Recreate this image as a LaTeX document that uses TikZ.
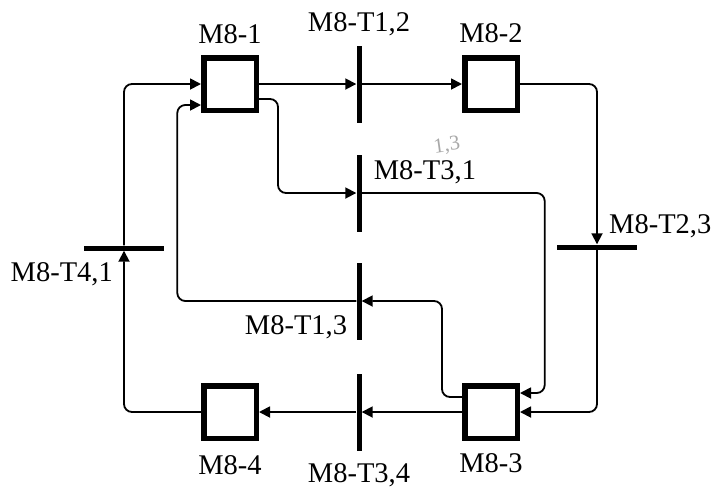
\documentclass[tikz,border=0pt]{standalone}
\usepackage{fontspec}
\setmainfont{Liberation Serif}
\usetikzlibrary{arrows.meta,positioning}
\definecolor{mpInk}{HTML}{000000}
\definecolor{mpFaint}{HTML}{A8A8A8}
\tikzset{
  mp box/.style={draw=mpInk, line width=5.5pt, minimum size=52.5pt, inner sep=0pt},
  mp vbar/.style={fill=mpInk, minimum width=5pt, minimum height=77pt, inner sep=0pt},
  mp hbar/.style={fill=mpInk, minimum width=80pt, minimum height=5pt, inner sep=0pt},
  mp arc/.style={draw=mpInk, line width=1.8pt, rounded corners=8pt, -{Triangle[length=11pt,width=11pt]}},
  mp label/.style={font=\fontsize{28.5}{31}\selectfont, text=mpInk, inner sep=0pt},
}

\begin{document}
\begin{tikzpicture}[x=1pt,y=-1pt]
  \useasboundingbox (0,0) rectangle (713,488);
  % machines and transitions
  \node[mp box] (m1) at (230,84) {};
  \node[mp box] (m2) at (491,84) {};
  \node[mp box] (m3) at (491,412) {};
  \node[mp box] (m4) at (230,412) {};
  \foreach \n/\y in {t12/84,t31/193,t13/301,t34/412}{\node[mp vbar] (\n) at (359,\y) {};}
  \node[mp hbar] (t23) at (597,247) {};
  \node[mp hbar] (t41) at (124,248) {};
  % arcs
  \draw[mp arc] (m1.east) -- (t12.west);
  \draw[mp arc] (t12.east) -- (m2.west);
  \draw[mp arc] ([yshift=-15pt]m1.east) -- ++(19,0) |- (t31.west);
  \draw[mp arc] (t31.east) -- ++(183,0) |- ([yshift=19pt]m3.east);
  \draw[mp arc] (m2.east) -| (t23.north);
  \draw[mp arc] (t23.south) |- (m3.east);
  \draw[mp arc] ([yshift=15pt]m3.west) -- ++(-20,0) |- (t13.east);
  \draw[mp arc] (t13.west) -- ++(-179,0) |- ([yshift=-21pt]m1.west);
  \draw[mp arc] (m3.west) -- (t34.east);
  \draw[mp arc] (t34.west) -- (m4.east);
  \draw[mp arc] (m4.west) -| (t41.south);
  \draw[mp arc] (t41.north) |- (m1.west);
  % labels
  \node[mp label, above=12pt of m1, anchor=base] (lm1) {M8-1};
  \node[mp label, above=13pt of m2, anchor=base] (lm2) {M8-2};
  \node[mp label, below=31pt of m3, anchor=base] (lm3) {M8-3};
  \node[mp label, below=33pt of m4, anchor=base] (lm4) {M8-4};
  \node[mp label, above=13.5pt of t12, anchor=base] (l12) {M8-T1,2};
  \node[mp label, below=31.5pt of t34, anchor=base] (l34) {M8-T3,4};
  \node[mp label, anchor=base west] (l31) at ([xshift=12pt,yshift=-25pt]t31.north east) {M8-T3,1};
  \node[mp label, anchor=base west] (l23) at ([xshift=12pt,yshift=11pt]t23.north) {M8-T2,3};
  \node[mp label, anchor=base east] (l41) at ([xshift=-11pt,yshift=-31pt]t41.south) {M8-T4,1};
  \node[mp label, anchor=base east] (l13) at ([xshift=-9pt,yshift=5pt]t13.south west) {M8-T1,3};
  \node[mp label, text=mpFaint, font=\fontsize{21}{22}\selectfont, rotate=8] (note) at (447,146) {1,3};
\end{tikzpicture}
\end{document}
